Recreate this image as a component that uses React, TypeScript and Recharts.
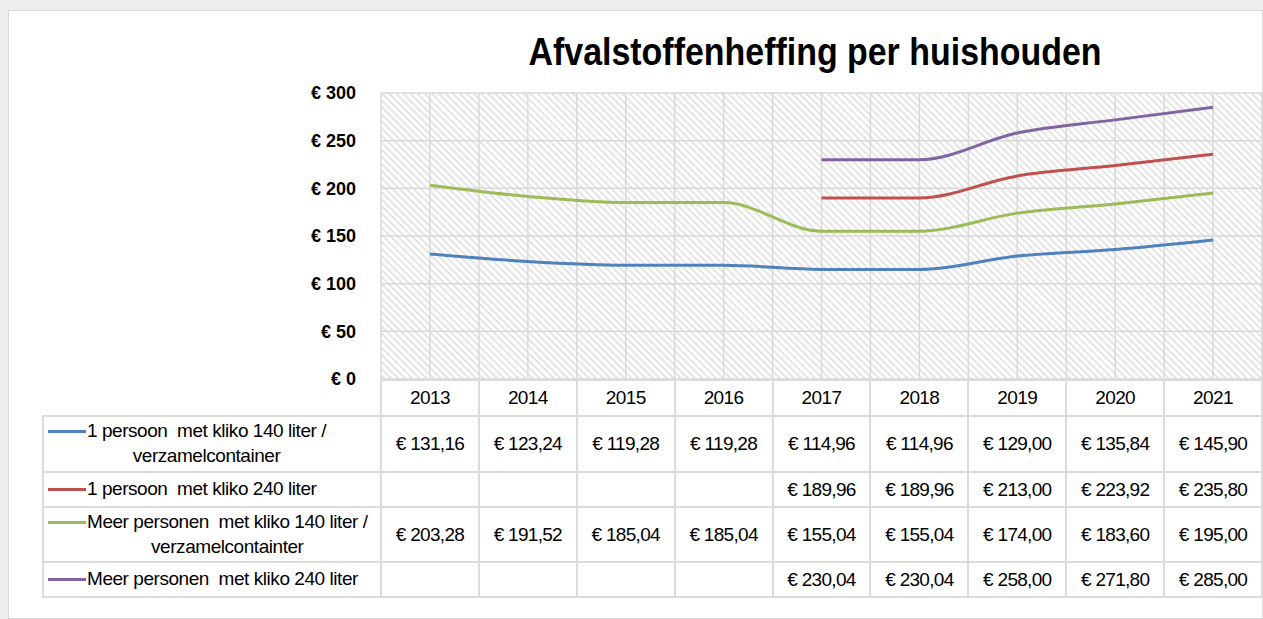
import React from "react"
import { LineChart, Line, XAxis, YAxis, CartesianGrid } from "recharts"

const years = ["2013", "2014", "2015", "2016", "2017", "2018", "2019", "2020", "2021"]
const seriesNames = [
  "1 persoon  met kliko 140 liter /\nverzamelcontainer",
  "1 persoon  met kliko 240 liter",
  "Meer personen  met kliko 140 liter /\nverzamelcontainter",
  "Meer personen  met kliko 240 liter",
]
const seriesColors = ["#4f81bd", "#c0504d", "#9bbb59", "#8064a2"]
const eenPersoon140 = [131.16, 123.24, 119.28, 119.28, 114.96, 114.96, 129.0, 135.84, 145.9]
const eenPersoon240 = [null, null, null, null, 189.96, 189.96, 213.0, 223.92, 235.8]
const meerPersonen140 = [203.28, 191.52, 185.04, 185.04, 155.04, 155.04, 174.0, 183.6, 195.0]
const meerPersonen240 = [null, null, null, null, 230.04, 230.04, 258.0, 271.8, 285.0]
const yTicks = [0, 50, 100, 150, 200, 250, 300]

const seriesValues = [eenPersoon140, eenPersoon240, meerPersonen140, meerPersonen240]
const keys = ["s0", "s1", "s2", "s3"]

const data = years.map((year, i) => {
  const row: Record<string, any> = { year }
  seriesValues.forEach((vals, s) => {
    row[keys[s]] = vals[i]
  })
  return row
})

// layout (page pixels)
const W = 1263
const H = 619
const plotLeft = 381
const plotTop = 93
const plotBottom = 379
const plotRight = 1262
const plotWidth = plotRight - plotLeft
const band = plotWidth / years.length
const labelColLeft = 42
const rowHeights = [56, 35, 55, 35]
const headerHeight = 37
const border = "2px solid #dcdcdc"

const fmt = (v: number | null) => (v == null ? "" : "€ " + v.toFixed(2).replace(".", ","))

function DataTable() {
  const cells: React.ReactNode[] = []
  // header row
  years.forEach((y, i) => {
    cells.push(
      <div
        key={"h" + i}
        style={{
          position: "absolute",
          left: plotLeft - 1 + i * band,
          top: plotBottom,
          width: band + 2,
          height: headerHeight + 1,
          boxSizing: "border-box",
          border,
          display: "flex",
          alignItems: "center",
          justifyContent: "center",
          letterSpacing: -0.6,
        }}
      >
        {y}
      </div>
    )
  })
  let top = plotBottom + headerHeight
  seriesNames.forEach((name, r) => {
    const h = rowHeights[r]
    cells.push(
      <div
        key={"l" + r}
        style={{
          position: "absolute",
          left: labelColLeft,
          top: top - 1,
          width: plotLeft - labelColLeft + 1,
          height: h + 2,
          boxSizing: "border-box",
          border,
          display: "flex",
          alignItems: "center",
          paddingLeft: 4,
        }}
      >
        <div style={{ display: "flex", alignItems: "flex-start" }}>
          <div
            style={{
              width: 38,
              height: 3,
              background: seriesColors[r],
              marginTop: 10,
              flexShrink: 0,
            }}
          />
          <div
            style={{
              display: "inline-block",
              whiteSpace: "pre",
              textAlign: "center",
              lineHeight: "25px",
              marginLeft: 1,
              letterSpacing: -0.45,
              marginTop: -2,
            }}
          >
            {name}
          </div>
        </div>
      </div>
    )
    years.forEach((_, i) => {
      cells.push(
        <div
          key={"c" + r + "-" + i}
          style={{
            position: "absolute",
            left: plotLeft - 1 + i * band,
            top: top - 1,
            width: band + 2,
            height: h + 2,
            boxSizing: "border-box",
            border,
            display: "flex",
            alignItems: "center",
            justifyContent: "center",
            letterSpacing: -0.7,
          }}
        >
          {fmt(seriesValues[r][i])}
        </div>
      )
    })
    top += h
  })
  return <>{cells}</>
}

export default function App() {
  return (
    <div
      style={{
        position: "fixed",
        left: 0,
        top: 0,
        width: W,
        height: H,
        background: "#efefef",
        fontFamily: "'Liberation Sans', Arial, sans-serif",
        color: "#000",
        fontSize: 19,
        overflow: "hidden",
      }}
    >
      <div
        style={{
          position: "absolute",
          left: 8,
          top: 10,
          width: W - 8,
          height: H - 10,
          background: "#fff",
          border: "1px solid #d9d9d9",
          boxSizing: "border-box",
        }}
      />
      <div
        style={{
          position: "absolute",
          left: 15,
          width: 1600,
          top: 32,
          textAlign: "center",
          fontSize: 39,
          lineHeight: "39px",
          fontWeight: 700,
          transform: "scaleX(0.87)",
          transformOrigin: "50% 0",
        }}
      >
        Afvalstoffenheffing per huishouden
      </div>
      <div style={{ position: "absolute", left: 0, top: 0 }}>
        <LineChart
          width={W}
          height={H}
          data={data}
          margin={{ top: plotTop, right: W - plotRight, bottom: H - plotBottom, left: plotLeft - 70 }}
        >
          <defs>
            <pattern id="hatch" patternUnits="userSpaceOnUse" width="5" height="5" patternTransform="rotate(45)">
              <rect width="5" height="5" fill="#ffffff" />
              <line x1="0" y1="1" x2="5" y2="1" stroke="#dedede" strokeWidth="1.6" />
            </pattern>
          </defs>
          <CartesianGrid
            fill="url(#hatch)"
            fillOpacity={1}
            stroke="#d9d9d9"
            strokeWidth={1.5}
            verticalCoordinatesGenerator={({ offset }: any) =>
              Array.from({ length: years.length * 2 + 1 }, (_, i) => offset.left + (i * offset.width) / (years.length * 2))
            }
          />
          <XAxis dataKey="year" hide padding={{ left: band / 2, right: band / 2 }} />
          <YAxis
            width={70}
            domain={[0, 300]}
            ticks={yTicks}
            interval={0}
            axisLine={false}
            tickLine={false}
            tickSize={0}
            tickMargin={25}
            tickFormatter={(v: number) => "€ " + v}
            tick={{ fill: "#000", fontSize: 18, fontWeight: 700, fontFamily: "'Liberation Sans', Arial, sans-serif" }}
          />
          {keys.map((k, s) => (
            <Line
              key={k}
              dataKey={k}
              type="monotone"
              stroke={seriesColors[s]}
              strokeWidth={3}
              dot={false}
              activeDot={false}
              isAnimationActive={false}
            />
          ))}
        </LineChart>
      </div>
      <DataTable />
    </div>
  )
}
